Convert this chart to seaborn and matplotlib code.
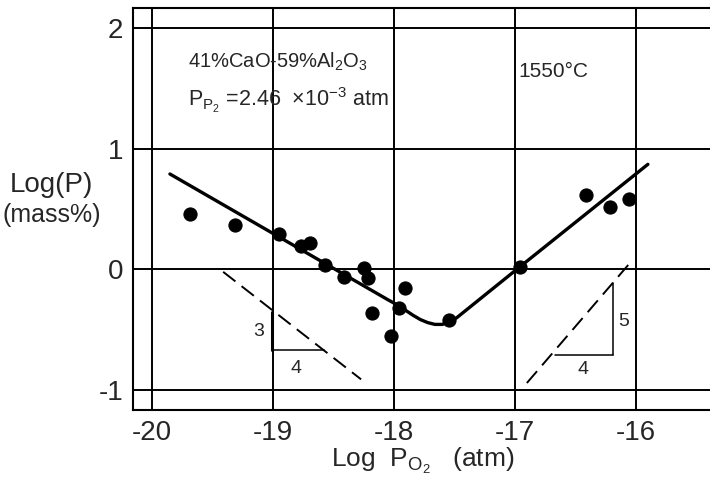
import matplotlib
matplotlib.use("Agg")
import matplotlib.pyplot as plt
import seaborn as sns
import pandas as pd

sns.set_style("white")
plt.rcParams['font.family'] = ['Liberation Sans', 'DejaVu Sans']
plt.rcParams['mathtext.fontset'] = 'custom'
plt.rcParams['mathtext.rm'] = 'Liberation Sans'
plt.rcParams['mathtext.it'] = 'Liberation Sans'

# measured points, log PO2 vs log P
log_po2 = [-19.68, -19.31, -18.95, -18.77, -18.69, -18.57, -18.41, -18.25, -18.21,
           -17.91, -18.18, -17.96, -18.02, -17.54, -16.96, -16.41, -16.21, -16.06]
log_p = [0.46, 0.37, 0.29, 0.19, 0.22, 0.04, -0.06, 0.01, -0.07,
         -0.15, -0.36, -0.32, -0.55, -0.42, 0.02, 0.62, 0.52, 0.58]

# fitted curve
curve_x = [-19.85, -18.05, -17.96, -17.90, -17.84, -17.78, -17.72, -17.66, -17.60,
           -17.54, -17.48, -16.96, -15.90]
curve_y = [0.79, -0.25, -0.30, -0.34, -0.38, -0.415, -0.44, -0.455, -0.455,
           -0.435, -0.40, 0.02, 0.87]

# slope guides (-3/4 and +5/4)
guide1_x = [-19.41, -18.27]
guide1_y = [-0.02, -0.91]
guide2_x = [-16.90, -16.06]
guide2_y = [-0.94, 0.04]

pts = pd.DataFrame({"x": log_po2, "y": log_p})
fit = pd.DataFrame({"x": curve_x, "y": curve_y})

fig = plt.figure(figsize=(7.1, 4.93), dpi=100)
ax = fig.add_axes([0.187, 0.168, 0.8155, 0.816])

for v in [-20, -19, -18, -17, -16]:
    ax.axvline(v, color="black", lw=1.4, zorder=0)
for h in [-1, 0, 1, 2]:
    ax.axhline(h, color="black", lw=1.4, zorder=0)

sns.lineplot(data=fit, x="x", y="y", sort=False, color="black", lw=2.4, ax=ax)
sns.scatterplot(data=pts, x="x", y="y", color="black", s=90, edgecolor="black", ax=ax, zorder=3)

ax.plot(guide1_x, guide1_y, color="black", lw=1.4, ls=(0, (8, 4)))
ax.plot(guide2_x, guide2_y, color="black", lw=1.4, ls=(0, (8, 4)))

# triangles
ax.plot([-19.01, -19.01], [-0.35, -0.67], color="black", lw=2.2)
ax.plot([-19.01, -18.58], [-0.67, -0.67], color="black", lw=1.1)
ax.text(-19.12, -0.51, "3", fontsize=14, ha="center", va="center")
ax.text(-18.81, -0.82, "4", fontsize=14, ha="center", va="center")
ax.plot([-16.19, -16.19], [-0.11, -0.71], color="black", lw=1.1)
ax.plot([-16.67, -16.19], [-0.71, -0.71], color="black", lw=1.1)
ax.text(-16.10, -0.43, "5", fontsize=14, ha="center", va="center")
ax.text(-16.44, -0.83, "4", fontsize=14, ha="center", va="center")

ax.text(-19.70, 1.72, "41%CaO-59%Al$_2$O$_3$", fontsize=14.5, ha="left", va="center")
ax.text(-19.70, 1.40, r"P$_{\mathregular{P_2}}$ =2.46  $\times$10$^{-3}$ atm", fontsize=15.5,
        ha="left", va="center")
ax.text(-16.97, 1.64, "1550°C", fontsize=15, ha="left", va="center")

ax.set_xlim(-20.157, -15.372)
ax.set_ylim(-1.165, 2.165)
ax.set_xticks([-20, -19, -18, -17, -16])
ax.set_yticks([-1, 0, 1, 2])
ax.set_xticklabels(["-20", "-19", "-18", "-17", "-16"])
ax.set_yticklabels(["-1", "0", "1", "2"])
ax.tick_params(length=0, labelsize=20, pad=7)
for s in ax.spines.values():
    s.set_color("black")
    s.set_linewidth(1.5)

ax.set_xlabel(r"Log  P$_{\mathregular{O_2}}$   (atm)", fontsize=19, labelpad=0)
ax.set_ylabel("")
fig.text(0.014, 0.625, "Log(P)", fontsize=20, ha="left", va="center")
fig.text(0.004, 0.563, "(mass%)", fontsize=18, ha="left", va="center")

fig.savefig("out.png", dpi=100)
